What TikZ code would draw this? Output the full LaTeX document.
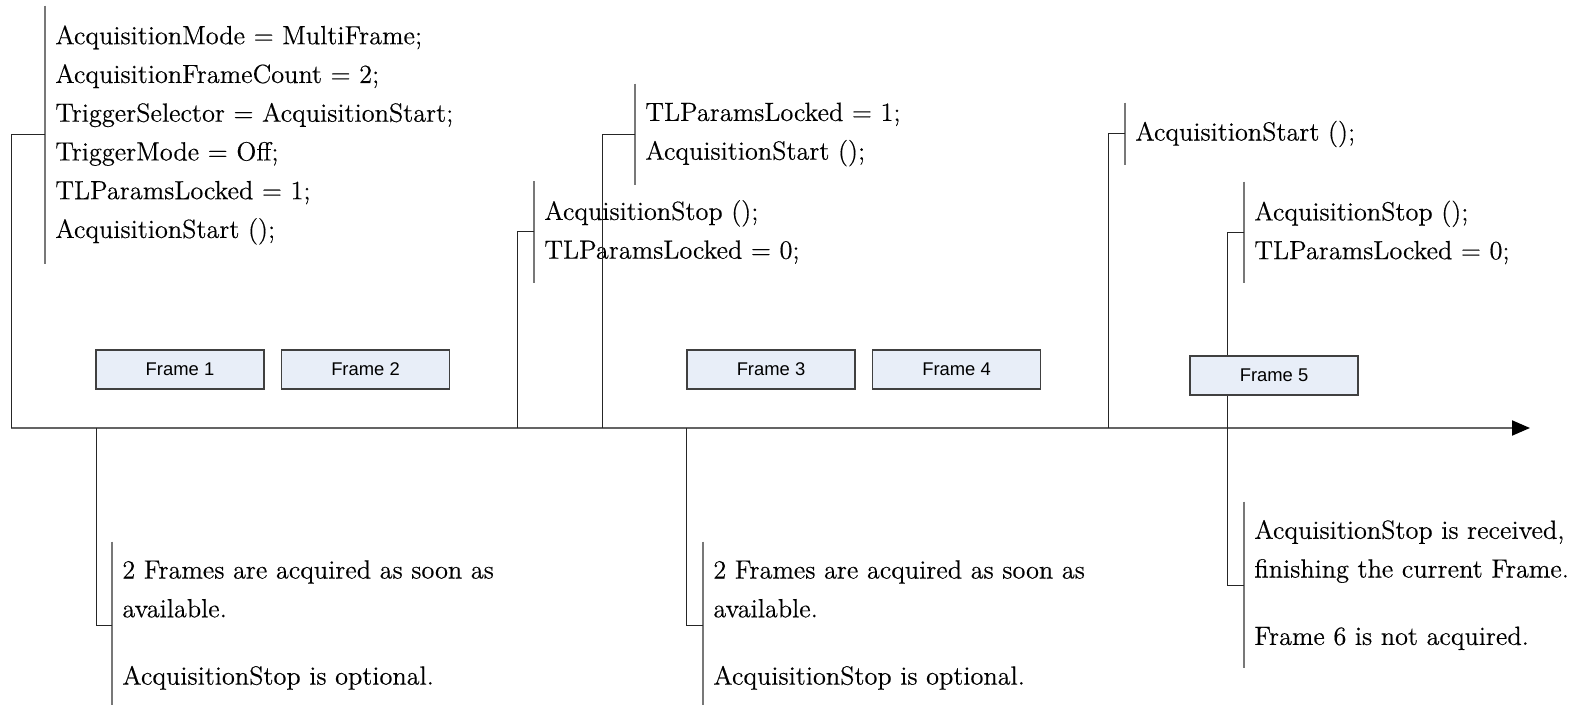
\documentclass[tikz,border=0pt]{standalone}
\usepackage{fontspec}
\newfontfamily\notefont{Latin Modern Roman}[FakeBold=0.35]
\newfontfamily\framefont{Liberation Sans}
\usepackage{tikz}
\usetikzlibrary{arrows.meta}
\definecolor{framefill}{RGB}{232,238,248}
\definecolor{axisgray}{RGB}{100,100,100}
\definecolor{bracketgray}{RGB}{120,120,120}
\tikzset{
    note/.style={anchor=west, align=left, inner xsep=5pt, inner ysep=0pt, font=\notefont\fontsize{13.15pt}{19.375pt}\selectfont},
    bracket/.style={draw=bracketgray, line width=0.6pt},
    link/.style={draw=black!85, line width=0.5pt},
    framebox/.style={draw=black!75, fill=framefill, line width=0.6pt, minimum width=84pt, minimum height=19.5pt, inner sep=0pt, font=\framefont\fontsize{9.2pt}{11pt}\selectfont},
    timeline/.style={draw=axisgray, line width=1pt, -{Triangle[length=9pt,width=7.5pt,black]}}
}
\begin{document}
\begin{tikzpicture}[x=0.5pt,y=-0.5pt]
                                \useasboundingbox (0,0) rectangle (1574,705);
                                \coordinate (start) at (11,428);
                                \coordinate (end) at (1530,428);
                                \coordinate (tFr1) at (96,428);
                                \coordinate (tStop) at (517,428);
                                \coordinate (tRestart) at (602,428);
                                \coordinate (tFr3) at (686,428);
                                \coordinate (tStart) at (1108,428);
                                \coordinate (tStop2) at (1227,428);
                                \draw[timeline] (start) -- (end);
                                \node[note, minimum height=129pt] (setup) at (45,135) {AcquisitionMode = MultiFrame;\\ AcquisitionFrameCount = 2;\\ TriggerSelector = AcquisitionStart;\\ TriggerMode = Off;\\ TLParamsLocked = 1;\\ AcquisitionStart ();};
                                \node[note, minimum height=50.5pt] (stop1) at (534,232) {AcquisitionStop ();\\ TLParamsLocked = 0;};
                                \node[note, minimum height=50.5pt] (start2) at (635,134.5) {TLParamsLocked = 1;\\ AcquisitionStart ();};
                                \node[note, minimum height=31pt] (start3) at (1125,134) {AcquisitionStart ();};
                                \node[note, minimum height=50.5pt] (stop3) at (1244,232.5) {AcquisitionStop ();\\ TLParamsLocked = 0;};
                                \node[note, minimum height=83pt] (stopinfo) at (1244,585) {AcquisitionStop is received,\\ finishing the current Frame.\\[14.3pt] Frame 6 is not acquired.};
                                \node[note, minimum height=83pt] (info1) at (112,625) {2 Frames are acquired as soon as\\ available.\\[14.3pt] AcquisitionStop is optional.};
                                \node[note, minimum height=83pt] (info2) at (703,625) {2 Frames are acquired as soon as\\ available.\\[14.3pt] AcquisitionStop is optional.};
                                \foreach \n in {setup,stop1,start2,start3,stop3,stopinfo,info1,info2}
                                    \draw[bracket] (\n.north west) -- (\n.south west);
                                \draw[link] (start) |- (setup.west);
                                \draw[link] (tStop) |- (stop1.west);
                                \draw[link] (tRestart) |- (start2.west);
                                \draw[link] (tStart) |- (start3.west);
                                \draw[link] (tStop2) |- (stop3.west);
                                \draw[link] (tStop2) |- (stopinfo.west);
                                \draw[link] (tFr1) |- (info1.west);
                                \draw[link] (tFr3) |- (info2.west);
                                \node[framebox] (fr1) at (180,369.5) {Frame 1};
                                \node[framebox] (fr2) at (365.5,369.5) {Frame 2};
                                \node[framebox] (fr3) at (771,369.5) {Frame 3};
                                \node[framebox] (fr4) at (956.5,369.5) {Frame 4};
                                \node[framebox] (fr5) at (1274,375.5) {Frame 5};
                            \end{tikzpicture}
\end{document}
